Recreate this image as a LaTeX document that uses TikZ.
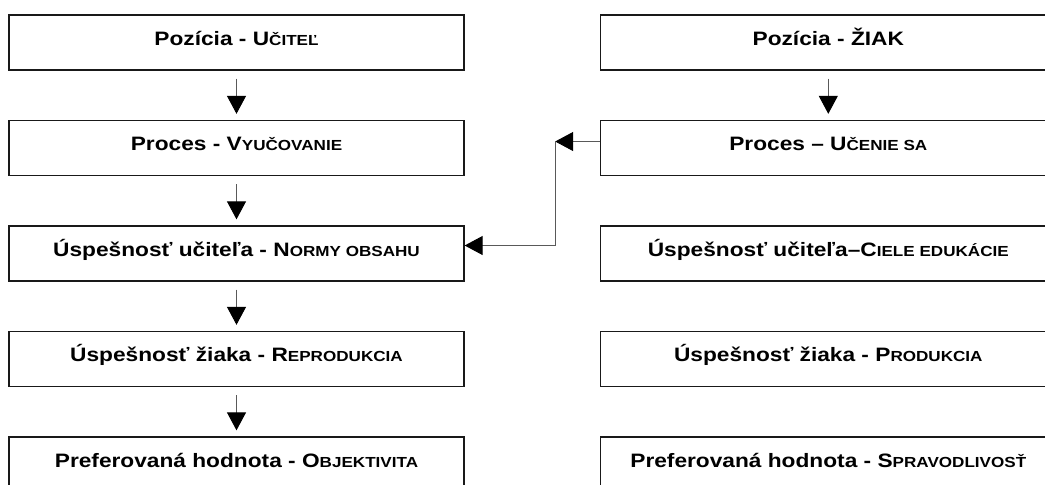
\documentclass[tikz,border=0pt]{standalone}
\usepackage{fontspec}
\newfontfamily\boxfont{Liberation Sans}[FakeStretch=1.17]
\usetikzlibrary{arrows.meta, positioning}
\newcommand{\sk}[1]{{\fontsize{7.3pt}{8pt}\selectfont #1}}

\begin{document}
\begin{tikzpicture}[
  stage/.style={
    rectangle, draw=black!90, line width=0.65pt, minimum width=227.5pt, minimum height=27.5pt,
    inner sep=0pt, text height=7.5pt, text depth=5pt, text=black,
    font=\boxfont\bfseries\fontsize{9.7pt}{11pt}\selectfont,
  },
  arr/.style={
    draw=black!65, line width=0.5pt, -{Triangle[length=9pt,width=9.5pt,color=black]},
  },
  flow/.style={arr, shorten <=4pt, shorten >=3pt},
  node distance=24.6pt,
]

  \path[use as bounding box, clip] (0,0) rectangle (522.5pt,-242pt);

  % Left column: teacher
  \node[stage] (ucitel) at (118.25pt,-21.25pt) {Pozícia - U\sk{ČITEĽ}};
  \node[stage, below=of ucitel] (vyucovanie) {Proces - V\sk{YUČOVANIE}};
  \node[stage, below=of vyucovanie] (normy) {Úspešnosť učiteľa - N\sk{ORMY OBSAHU}};
  \node[stage, below=of normy] (reprodukcia) {Úspešnosť žiaka - R\sk{EPRODUKCIA}};
  \node[stage, below=of reprodukcia] (objektivita) {Preferovaná hodnota - O\sk{BJEKTIVITA}};

  % Right column: pupil
  \node[stage, right=67.75pt of ucitel] (ziak) {Pozícia - ŽIAK};
  \node[stage, below=of ziak] (ucenie) {Proces – U\sk{ČENIE SA}};
  \node[stage, below=of ucenie] (ciele) {Úspešnosť učiteľa–C\sk{IELE EDUKÁCIE}};
  \node[stage, below=of ciele] (produkcia) {Úspešnosť žiaka - P\sk{RODUKCIA}};
  \node[stage, below=of produkcia] (spravodlivost) {Preferovaná hodnota - S\sk{PRAVODLIVOSŤ}};

  % Connectors
  \draw[flow] (ucitel) -- (vyucovanie);
  \draw[flow] (vyucovanie) -- (normy);
  \draw[flow] (normy) -- (reprodukcia);
  \draw[flow] (reprodukcia) -- (objektivita);
  \draw[flow] (ziak) -- (ucenie);

  \coordinate (bend) at ([xshift=-22.5pt,yshift=3.25pt]ucenie.west);
  \draw[arr] ([yshift=3.25pt]ucenie.west) -- (bend);
  \draw[arr] (bend) |- ([yshift=4pt]normy.east);

\end{tikzpicture}
\end{document}
